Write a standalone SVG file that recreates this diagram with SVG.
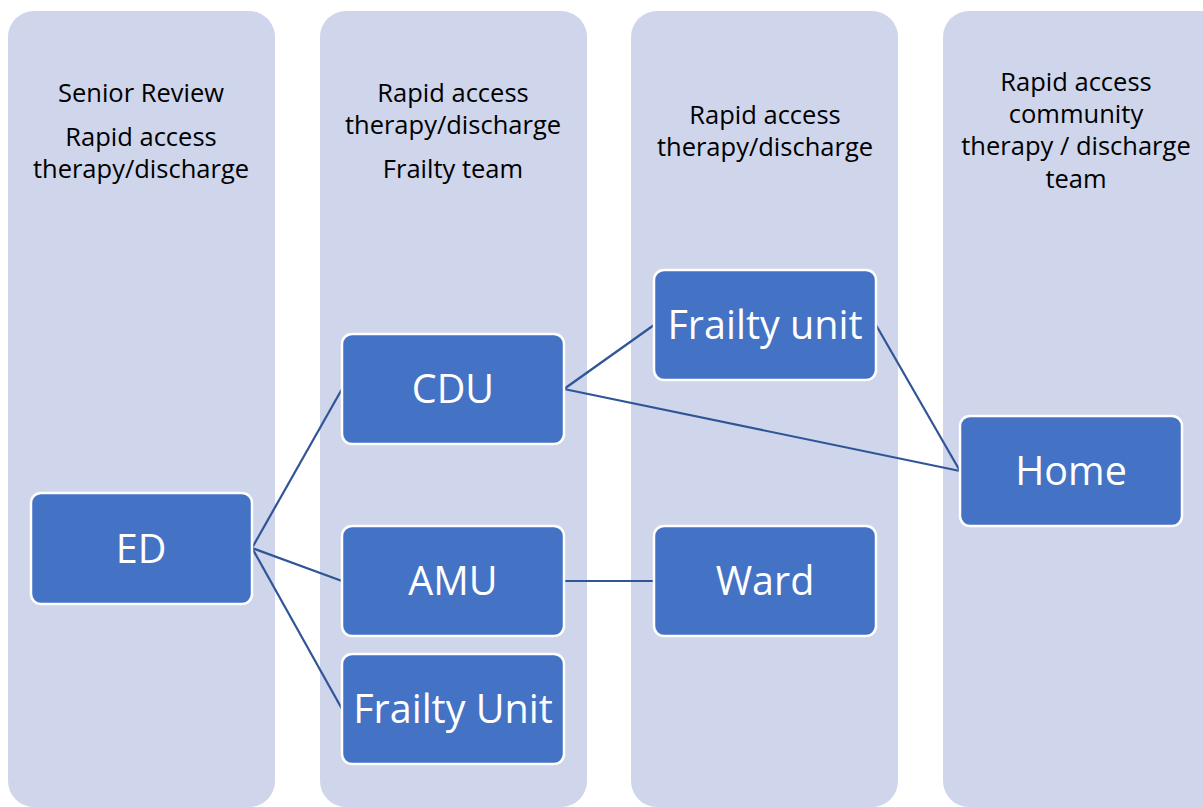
<svg xmlns="http://www.w3.org/2000/svg" width="1203" height="807" viewBox="0 0 1203 807">
<style>
.col{fill:#CFD5EA;}
.hd{font-family:"Open Sans","Liberation Sans",sans-serif;font-size:25.5px;fill:#000;text-anchor:middle;}
.nd rect{fill:#4472C4;stroke:#fff;stroke-width:2.5;}
.nd text{font-family:"Open Sans","Liberation Sans",sans-serif;font-size:39.5px;fill:#fff;text-anchor:middle;dominant-baseline:central;}
.cn line{stroke:#2F5597;stroke-width:2.2;}
</style>
<rect width="1203" height="807" fill="#fff"/>
<g id="col1"><rect class="col" x="8" y="11" width="267" height="796" rx="26"/>
<text class="hd" x="141" y="102">Senior Review</text>
<text class="hd" x="141" y="146">Rapid access</text>
<text class="hd" x="141" y="178">therapy/discharge</text></g>
<g id="col2"><rect class="col" x="320" y="11" width="267" height="796" rx="26"/>
<text class="hd" x="453" y="102">Rapid access</text>
<text class="hd" x="453" y="134">therapy/discharge</text>
<text class="hd" x="453" y="178">Frailty team</text></g>
<g id="col3"><rect class="col" x="631" y="11" width="267" height="796" rx="26"/>
<text class="hd" x="765" y="124">Rapid access</text>
<text class="hd" x="765" y="156">therapy/discharge</text></g>
<g id="col4"><rect class="col" x="943" y="11" width="290" height="796" rx="26"/>
<text class="hd" x="1076" y="91">Rapid access</text>
<text class="hd" x="1076" y="123">community</text>
<text class="hd" x="1076" y="155">therapy / discharge</text>
<text class="hd" x="1076" y="188">team</text></g>
<g class="cn" id="connectors">
<line x1="252" y1="548" x2="342" y2="389"/>
<line x1="252" y1="548" x2="342" y2="581"/>
<line x1="252" y1="548" x2="342" y2="709"/>
<line x1="564" y1="389" x2="654" y2="325"/>
<line x1="564" y1="389" x2="960" y2="471"/>
<line x1="876" y1="325" x2="960" y2="471"/>
<line x1="564" y1="581" x2="654" y2="581"/>
</g>
<g class="nd" id="ED"><rect x="31" y="493" width="221" height="111" rx="10"/><text x="141" y="548">ED</text></g>
<g class="nd" id="CDU"><rect x="342" y="334" width="222" height="110" rx="10"/><text x="453" y="388">CDU</text></g>
<g class="nd" id="AMU"><rect x="342" y="526" width="222" height="110" rx="10"/><text x="453" y="580">AMU</text></g>
<g class="nd" id="FrailtyUnit"><rect x="342" y="654" width="222" height="110" rx="10"/><text x="453" y="708">Frailty Unit</text></g>
<g class="nd" id="Frailtyunit"><rect x="654" y="270" width="222" height="110" rx="10"/><text x="765" y="324">Frailty unit</text></g>
<g class="nd" id="Ward"><rect x="654" y="526" width="222" height="110" rx="10"/><text x="765" y="580">Ward</text></g>
<g class="nd" id="Home"><rect x="960" y="416" width="222" height="110" rx="10"/><text x="1071" y="470">Home</text></g>
</svg>
